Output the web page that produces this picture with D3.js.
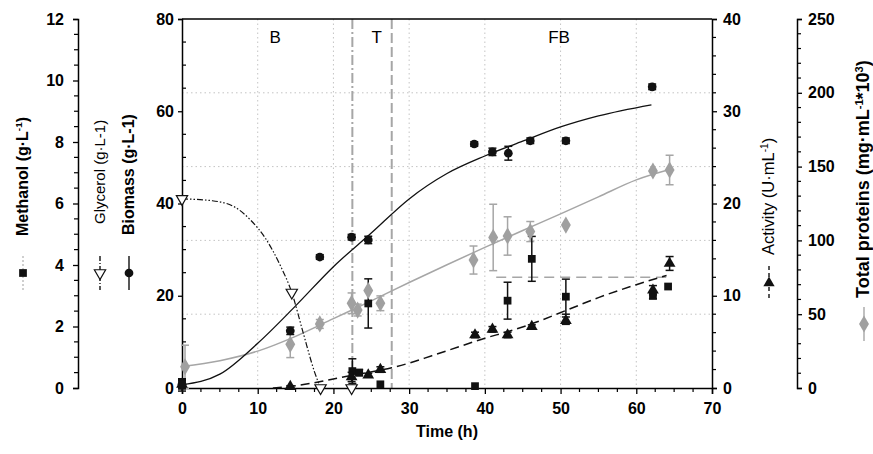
<!DOCTYPE html>
<html>
<head>
<meta charset="utf-8">
<script src="https://cdn.jsdelivr.net/npm/d3@7"></script>
<style>
  body { margin: 0; background: #fff; }
  text { font-family: "Liberation Sans", Arial, sans-serif; }
</style>
</head>
<body>
<div id="chart"></div>
<script>
// measured points
const biomassT   = [0, 14.3, 18.2, 22.4, 24.6, 38.6, 41.0, 43.1, 46.0, 50.7, 62.1];
const biomass    = [0.8, 12.4, 28.4, 32.7, 32.1, 52.9, 51.2, 50.9, 53.6, 53.6, 65.3];
const biomassErr = [0.8, 0.8, 0.5, 0.6, 0.8, 0.5, 0.8, 1.5, 0.6, 0.6, 0.6];

const glycerolT = [0, 14.5, 18.3, 22.4];
const glycerol  = [41, 20.7, 0, 0];

const methanolT   = [0, 22.5, 23.4, 24.6, 26.2, 38.7, 43.0, 46.2, 50.7, 62.2, 64.2];
const methanol    = [0.1, 0.55, 0.5, 2.75, 0.12, 0.06, 2.84, 4.2, 2.97, 3.0, 3.3];
const methanolErr = [0.2, 0.4, 0.1, 0.8, 0, 0, 0.6, 0.73, 0.57, 0.1, 0];

const activityT   = [0, 14.3, 22.4, 24.6, 26.2, 38.7, 41.0, 43.0, 46.2, 50.7, 62.2, 64.4];
const activity    = [0.4, 0.15, 1.2, 1.4, 2.0, 5.75, 6.36, 5.75, 6.65, 7.3, 10.6, 13.5];
const activityErr = [0.5, 0.1, 0.5, 0.2, 0.3, 0.3, 0.3, 0.3, 0.2, 0.4, 0.5, 0.75];

const proteinT   = [0.4, 14.3, 18.2, 22.4, 23.2, 24.6, 26.2, 38.5, 41.1, 43.0, 46.0, 50.7, 62.2, 64.4];
const protein    = [14.4, 29.6, 43.4, 57.4, 52.8, 66, 57.4, 86.7, 102, 103, 106, 110.4, 147, 147.7];
const proteinErr = [14.6, 9, 3, 7, 4, 0, 5, 9.5, 22.5, 13, 6.8, 0, 0, 10];

// fitted curves
const biomassFitT = [0, 5, 10, 15, 20, 25, 30, 35, 40, 45, 50, 55, 62];
const biomassFit  = [0.7, 3, 9.7, 17.8, 26.3, 33.6, 41, 46.5, 50.3, 53.5, 56.6, 59, 61.4];
const glycerolFitT = [0, 4, 7, 9, 11, 13, 14.5, 16, 17.5, 18.3];
const glycerolFit  = [41, 40.6, 39.2, 36.5, 32.5, 26.5, 20.7, 12, 3.5, 0];
const activityFitT = [12, 15, 18, 21, 24, 27.7, 30, 33, 36.7, 40, 43, 46, 50.7, 55, 60, 64];
const activityFit  = [0, 0.25, 0.65, 1.15, 1.6, 2.2, 2.7, 3.5, 4.5, 5.4, 6.1, 6.9, 8.4, 9.8, 11.2, 12.2];
const proteinFitT = [0, 5, 10, 15, 20, 25, 30, 35, 40, 45, 50, 55, 60, 64.4];
const proteinFit  = [14.5, 18.5, 25, 35, 47, 59, 71.5, 83.5, 95.3, 106.7, 118, 129.5, 141, 148];

const methanolSetT = [41.5, 64.5];
const methanolSet  = [3.6, 3.6];

const phaseT = [22.5, 27.7];
const phaseLabels = ["B", "T", "FB"];
const phaseLabelT = [12.3, 25.7, 49.8];

const width = 873, height = 454;
const pLeft = 182, pRight = 712, pTop = 19, pBottom = 388;
const grey = "#a6a6a6";

const svg = d3.select("#chart").append("svg")
  .attr("width", width).attr("height", height);

const x = d3.scaleLinear().domain([0, 70]).range([pLeft, pRight]);
const yMain = d3.scaleLinear().domain([0, 80]).range([pBottom, pTop]);
const yMeth = d3.scaleLinear().domain([0, 12]).range([pBottom, pTop]);
const yAct  = d3.scaleLinear().domain([0, 40]).range([pBottom, pTop]);
const yProt = d3.scaleLinear().domain([0, 250]).range([pBottom, pTop]);

// grid
const grid = svg.append("g").attr("stroke", "#c4c4c4").attr("stroke-dasharray", "1.5,3");
[10, 20, 30, 40, 50, 60].forEach(t => grid.append("line")
  .attr("x1", x(t)).attr("x2", x(t)).attr("y1", pTop).attr("y2", pBottom));
[50, 100, 150, 200].forEach(v => grid.append("line")
  .attr("x1", pLeft).attr("x2", pRight).attr("y1", yProt(v)).attr("y2", yProt(v)));

// phase separators
svg.append("line").attr("x1", x(phaseT[0])).attr("x2", x(phaseT[0]))
  .attr("y1", pTop).attr("y2", pBottom)
  .attr("stroke", grey).attr("stroke-width", 2).attr("stroke-dasharray", "10,3,2,3");
svg.append("line").attr("x1", x(phaseT[1])).attr("x2", x(phaseT[1]))
  .attr("y1", pTop).attr("y2", pBottom)
  .attr("stroke", grey).attr("stroke-width", 2).attr("stroke-dasharray", "10,4");
phaseLabels.forEach((l, i) => svg.append("text")
  .attr("x", x(phaseLabelT[i])).attr("y", 43)
  .attr("text-anchor", "middle").attr("font-size", 17).text(l));

// axes helper
function drawAxis(g, scale, orient, major, minor, majorLen, pad, minorInside) {
  const ax = (orient === "left" ? d3.axisLeft : orient === "right" ? d3.axisRight : d3.axisBottom)(scale)
    .tickValues(major).tickSize(majorLen).tickPadding(pad).tickFormat(d3.format("d"));
  g.call(ax);
  g.select(".domain").attr("stroke", "#000").attr("stroke-width", 1.5);
  g.selectAll(".tick line").attr("stroke-width", 1.3);
  g.selectAll(".tick text").attr("font-size", 16).attr("font-weight", "bold")
    .attr("font-family", "'Liberation Sans', Arial, sans-serif");
  const sign = (orient === "left" ? -1 : 1) * (minorInside ? -1 : 1);
  minor.forEach(v => {
    const p = scale(v);
    if (orient === "bottom") {
      g.append("line").attr("x1", p).attr("x2", p).attr("y1", 0).attr("y2", 4)
        .attr("stroke", "#000").attr("stroke-width", 1.2);
    } else {
      g.append("line").attr("y1", p).attr("y2", p).attr("x1", 0).attr("x2", sign * 4)
        .attr("stroke", "#000").attr("stroke-width", 1.2);
    }
  });
}

drawAxis(svg.append("g").attr("transform", `translate(${pLeft},0)`), yMain, "left",
  [0, 20, 40, 60, 80], d3.range(5, 80, 5).filter(v => v % 20), 4, 4, true);
drawAxis(svg.append("g").attr("transform", `translate(78,0)`), yMeth, "left",
  [0, 2, 4, 6, 8, 10, 12], d3.range(0.5, 12, 0.5).filter(v => v % 2), 5, 9, false);
drawAxis(svg.append("g").attr("transform", `translate(${pRight},0)`), yAct, "right",
  [0, 10, 20, 30, 40], d3.range(2, 40, 2).filter(v => v % 10), 5, 6, false);
drawAxis(svg.append("g").attr("transform", `translate(797,0)`), yProt, "right",
  [0, 50, 100, 150, 200, 250], d3.range(10, 250, 10).filter(v => v % 50), 5, 6, false);
drawAxis(svg.append("g").attr("transform", `translate(0,${pBottom})`), x, "bottom",
  [0, 10, 20, 30, 40, 50, 60, 70], d3.range(2.5, 70, 2.5).filter(v => v % 10), 6, 9, false);

// top frame
svg.append("line").attr("x1", pLeft).attr("x2", pRight).attr("y1", pTop).attr("y2", pTop)
  .attr("stroke", "#000").attr("stroke-width", 1.5);

// curves
const zip = (a, b) => a.map((t, i) => [t, b[i]]);
function curve(ts, vs, ys, color, dash, w) {
  svg.append("path").datum(zip(ts, vs))
    .attr("fill", "none").attr("stroke", color).attr("stroke-width", w)
    .attr("stroke-dasharray", dash)
    .attr("d", d3.line().x(d => x(d[0])).y(d => ys(d[1])).curve(d3.curveMonotoneX));
}
curve(proteinFitT, proteinFit, yProt, grey, null, 1.5);
curve(methanolSetT, methanolSet, yMeth, grey, "10,6", 1.6);
curve(biomassFitT, biomassFit, yMain, "#111", null, 1.3);
curve(glycerolFitT, glycerolFit, yMain, "#111", "6,2,1.5,2,1.5,2", 1.2);
curve(activityFitT, activityFit, yAct, "#111", "9,5", 1.5);

// error bars
function errors(ts, vs, es, ys, color) {
  const g = svg.append("g").attr("stroke", color).attr("stroke-width", 1.5);
  ts.forEach((t, i) => {
    if (!es[i]) return;
    const px = x(t), y1 = ys(vs[i] - es[i]), y2 = ys(vs[i] + es[i]);
    g.append("line").attr("x1", px).attr("x2", px).attr("y1", y1).attr("y2", y2);
    g.append("line").attr("x1", px - 4).attr("x2", px + 4).attr("y1", y1).attr("y2", y1);
    g.append("line").attr("x1", px - 4).attr("x2", px + 4).attr("y1", y2).attr("y2", y2);
  });
}
errors(proteinT, protein, proteinErr, yProt, grey);
errors(methanolT, methanol, methanolErr, yMeth, "#111");
errors(activityT, activity, activityErr, yAct, "#111");
errors(biomassT, biomass, biomassErr, yMain, "#111");

// markers
const sym = (type, size) => d3.symbol().type(type).size(size)();
function markers(ts, vs, ys, type, size, fill, stroke, rot) {
  svg.append("g").selectAll("path").data(ts).join("path")
    .attr("transform", (t, i) => `translate(${x(t)},${ys(vs[i])}) rotate(${rot || 0})`)
    .attr("d", sym(type, size))
    .attr("fill", fill).attr("stroke", stroke).attr("stroke-width", 1.2);
}
markers(proteinT, protein, yProt, d3.symbolDiamond, 85, "#a0a0a0", "none");
markers(methanolT, methanol, yMeth, d3.symbolSquare, 60, "#111", "none");
markers(activityT, activity, yAct, d3.symbolTriangle, 60, "#111", "none");
markers(biomassT, biomass, yMain, d3.symbolCircle, 60, "#111", "none");
markers(glycerolT, glycerol, yMain, d3.symbolTriangle, 55, "#fff", "#111", 180);

// rotated legend titles
function title(cx, yStart, parts, fs, weight, lineColor, dash, type, size, fill, stroke, rot, symY) {
  const t = svg.append("text")
    .attr("transform", `translate(${cx},${yStart}) rotate(-90)`)
    .attr("font-size", fs).attr("font-weight", weight);
  parts.forEach(p => {
    const s = t.append("tspan").text(p[0]);
    if (p[1]) s.attr("font-size", fs * 0.62).attr("dy", -6);
    if (p[2]) s.attr("dy", 6);
  });
  const lx = cx - 5;
  svg.append("line").attr("x1", lx).attr("x2", lx).attr("y1", symY - 17).attr("y2", symY + 17)
    .attr("stroke", lineColor).attr("stroke-width", 1.4).attr("stroke-dasharray", dash);
  svg.append("path").attr("transform", `translate(${lx},${symY}) rotate(${rot || 0})`)
    .attr("d", sym(type, size)).attr("fill", fill).attr("stroke", stroke).attr("stroke-width", 1.2);
}
title(28, 236, [["Methanol (g·L"], ["-1", true], [")", false, true]], 16, "bold",
  "#bbb", "2,2", d3.symbolSquare, 60, "#111", "none", 0, 273);
title(105, 224, [["Glycerol (g·L-1)"]], 15, "normal",
  "#111", "5,2,1,2", d3.symbolTriangle, 55, "#fff", "#111", 180, 273);
title(134, 235, [["Biomass  (g·L-1)"]], 16, "bold",
  "#111", null, d3.symbolCircle, 60, "#111", "none", 0, 273);
title(774, 255, [["Activity (U·mL"], ["-1", true], [")", false, true]], 16.5, "normal",
  "#111", "4,3", d3.symbolTriangle, 55, "#111", "none", 0, 283);
title(869, 298, [["Total proteins (mg·mL"], ["-1", true], ["*10", false, true], ["3", true], [")", false, true]], 18, "bold",
  grey, null, d3.symbolDiamond, 85, "#a0a0a0", "none", 0, 324);

svg.append("text").attr("x", 447).attr("y", 437).attr("text-anchor", "middle")
  .attr("font-size", 16).attr("font-weight", "bold").text("Time (h)");
</script>
</body>
</html>
